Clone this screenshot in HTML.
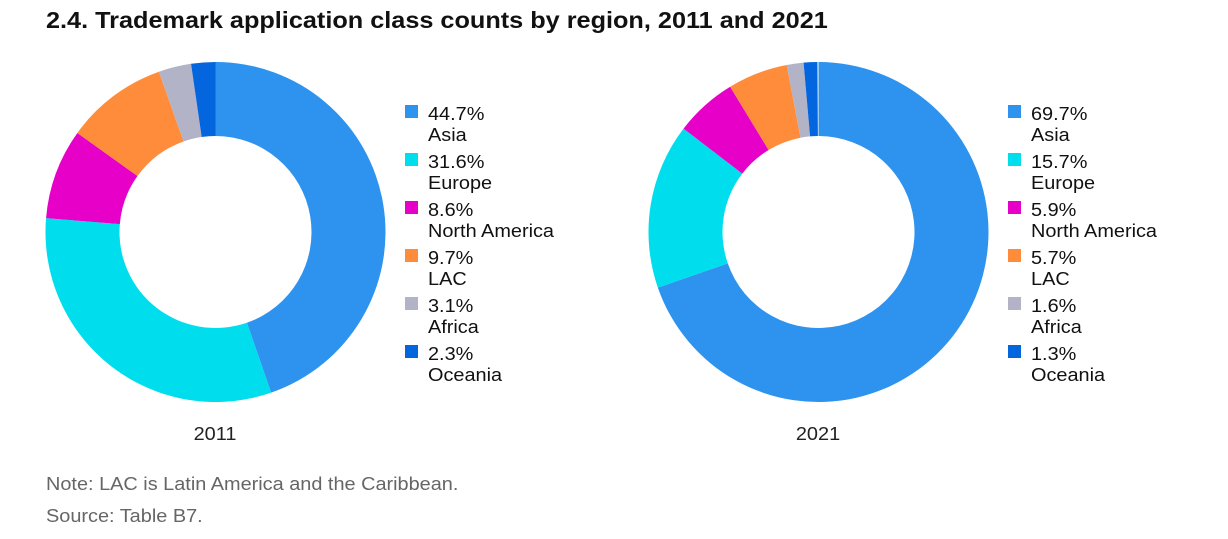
<!DOCTYPE html>
<html><head><meta charset="utf-8"><style>
body{margin:0;background:#fff;width:1228px;height:539px;overflow:hidden;font-family:"Liberation Sans","DejaVu Sans",sans-serif;}
svg{position:absolute;left:0;top:0}
</style></head><body>
<svg id="s" width="1228" height="539" xmlns="http://www.w3.org/2000/svg">
<text x="46" y="28" font-size="23" font-weight="bold" fill="#111" data-f="1.098">2.4. Trademark application class counts by region, 2011 and 2021</text>
<text x="215" y="440" font-size="18" text-anchor="middle" fill="#222">2011</text>
<text x="818" y="440" font-size="18" text-anchor="middle" fill="#222">2021</text>
<text x="46" y="490" font-size="18" fill="#666">Note: LAC is Latin America and the Caribbean.</text>
<text x="46" y="522" font-size="18" fill="#666">Source: Table B7.</text>
</svg>
<script>
var s=document.getElementById('s'),NS='http://www.w3.org/2000/svg';
var cols=['#2e93ee','#00dded','#e600c8','#ff8c3a','#b3b3c8','#0466de'];
var names=['Asia','Europe','North America','LAC','Africa','Oceania'];
function donut(cx,cy,R,r,vals,lx){
 var a=0;
 vals.forEach(function(v,i){
  var a0=a/100*2*Math.PI,a1=(a+v)/100*2*Math.PI;a+=v;
  var p=function(rr,t){return [cx+rr*Math.sin(t),cy-rr*Math.cos(t)];};
  var L=(a1-a0)>Math.PI?1:0;
  var o0=p(R,a0),o1=p(R,a1),i1=p(r,a1),i0=p(r,a0);
  var e=document.createElementNS(NS,'path');
  e.setAttribute('d','M'+o0+' A'+R+','+R+' 0 '+L+' 1 '+o1+' L'+i1+' A'+r+','+r+' 0 '+L+' 0 '+i0+'Z');
  e.setAttribute('fill',cols[i]);s.appendChild(e);
  var y=105+i*48;
  var q=document.createElementNS(NS,'rect');q.setAttribute('x',lx);q.setAttribute('y',y);q.setAttribute('width',13);q.setAttribute('height',13);q.setAttribute('fill',cols[i]);s.appendChild(q);
  [[v.toFixed(1)+'%',120],[names[i],141]].forEach(function(t){
   var x=document.createElementNS(NS,'text');x.setAttribute('x',lx+23);x.setAttribute('y',y+t[1]-105);x.setAttribute('font-size','18');x.setAttribute('fill','#111');x.textContent=t[0];s.appendChild(x);});
 });
}
donut(215.5,232,170,96,[44.7,31.6,8.6,9.7,3.1,2.3],405);
donut(818.5,232,170,96,[69.7,15.7,5.9,5.7,1.6,1.3],1008);
var ts=s.querySelectorAll('text');
for(var k=0;k<ts.length;k++){var t=ts[k];var f=parseFloat(t.getAttribute('data-f')||'1.105');
 var w=t.getComputedTextLength();t.setAttribute('textLength',(w*f).toFixed(1));t.setAttribute('lengthAdjust','spacingAndGlyphs');t.removeAttribute('data-f');}
</script>
</body></html>
